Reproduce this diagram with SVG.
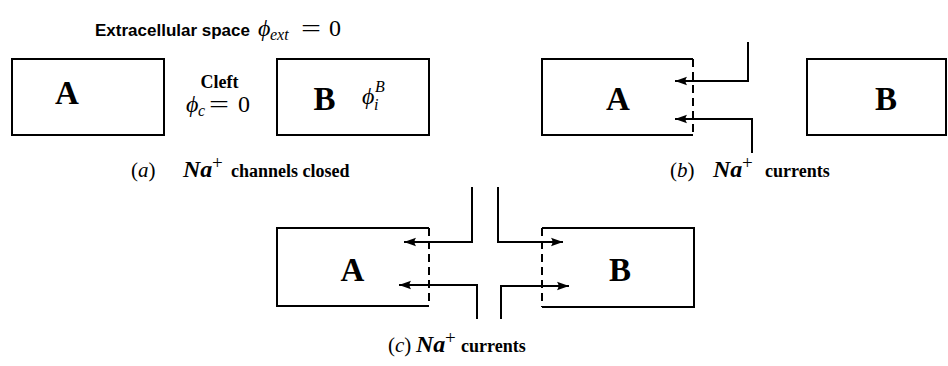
<svg xmlns="http://www.w3.org/2000/svg" width="948" height="366" viewBox="0 0 948 366">
<style>
.box{fill:none;stroke:#000;stroke-width:2}
.dash{fill:none;stroke:#000;stroke-width:2;stroke-dasharray:8,5}
.con{fill:none;stroke:#000;stroke-width:2}
.big{font-family:"Liberation Serif",serif;font-weight:bold;font-size:33px;text-anchor:middle}
.lbl{font-family:"Liberation Serif",serif;font-weight:bold;font-size:18px}
.mi{font-family:"Liberation Serif",serif;font-style:italic;font-size:24px}
.mr{font-family:"Liberation Serif",serif;font-size:24px}
.cap{font-family:"Liberation Serif",serif;font-size:21px}
.na{font-family:"Liberation Serif",serif;font-style:italic;font-weight:bold;font-size:24px}
.sub{font-family:"Liberation Serif",serif;font-style:italic;font-size:16px}
.sup{font-family:"Liberation Serif",serif;font-size:19px}
.sans{font-family:"Liberation Sans",sans-serif;font-weight:bold;font-size:17px}
</style>
<defs>
<marker id="ah" markerUnits="userSpaceOnUse" markerWidth="14" markerHeight="10" refX="12" refY="5" orient="auto">
<path d="M12,5 L0,0.8 Q3,5 0,9.2 Z" fill="#000"/>
</marker>
</defs>
<rect width="948" height="366" fill="#fff"/>

<g id="title">
<text class="sans" x="95" y="36">Extracellular space</text>
<text class="mi" x="258" y="36">ϕ</text>
<text class="sub" x="270" y="40">ext</text>
<text class="mr" x="301" y="36" textLength="20" lengthAdjust="spacingAndGlyphs">=</text>
<text class="mr" x="329" y="36">0</text>
</g>

<g id="a-A">
<rect class="box" x="12" y="59" width="152" height="76"/>
<text class="big" x="67" y="104">A</text>
</g>
<g id="a-cleft">
<text class="lbl" x="219.5" y="88" text-anchor="middle">Cleft</text>
<text class="mi" x="186" y="112">ϕ</text>
<text class="sub" x="198" y="116">c</text>
<text class="mr" x="209" y="112" textLength="20" lengthAdjust="spacingAndGlyphs">=</text>
<text class="mr" x="238" y="112">0</text>
</g>
<g id="a-B">
<rect class="box" x="277" y="59" width="152" height="76"/>
<text class="big" x="324.5" y="110">B</text>
<text class="mi" x="362" y="104" font-size="22">ϕ</text>
<text class="sub" x="374" y="110" font-size="13">i</text>
<text class="sub" x="375" y="92" font-size="14">B</text>
</g>
<g id="a-caption">
<text class="cap" x="131" y="177">(<tspan font-style="italic">a</tspan>)</text>
<text class="na" x="183" y="177">Na</text>
<text class="sup" x="212" y="169">+</text>
<text class="lbl" x="231" y="177">channels closed</text>
</g>

<g id="b-A">
<path class="box" d="M693,59 H542 V135 H693"/>
<line class="dash" x1="693" y1="59" x2="693" y2="135"/>
<text class="big" x="618" y="110">A</text>
</g>
<g id="b-B">
<rect class="box" x="807" y="59" width="139" height="76"/>
<text class="big" x="886" y="110">B</text>
</g>
<g id="b-caption">
<text class="cap" x="670" y="177">(<tspan font-style="italic">b</tspan>)</text>
<text class="na" x="713" y="177">Na</text>
<text class="sup" x="742" y="169">+</text>
<text class="lbl" x="765" y="177">currents</text>
</g>

<g id="c-A">
<path class="box" d="M429,228 H277 V306 H429"/>
<line class="dash" x1="429" y1="228" x2="429" y2="306"/>
<text class="big" x="352.5" y="281">A</text>
</g>
<g id="c-B">
<path class="box" d="M542,228 H694 V307 H542"/>
<line class="dash" x1="542" y1="228" x2="542" y2="307"/>
<text class="big" x="620" y="281">B</text>
</g>
<g id="c-caption">
<text class="cap" x="388" y="352">(<tspan font-style="italic">c</tspan>)</text>
<text class="na" x="416" y="352">Na</text>
<text class="sup" x="445" y="344">+</text>
<text class="lbl" x="461" y="352">currents</text>
</g>

<g id="connectors">
<polyline class="con" points="748,42 748,81 675,81" marker-end="url(#ah)"/>
<polyline class="con" points="752,153 752,119 675,119" marker-end="url(#ah)"/>
<polyline class="con" points="472,187 472,242 404,242" marker-end="url(#ah)"/>
<polyline class="con" points="477,319 477,285 399,285" marker-end="url(#ah)"/>
<polyline class="con" points="498,187 498,242 563,242" marker-end="url(#ah)"/>
<polyline class="con" points="501,319 501,286 569,286" marker-end="url(#ah)"/>
</g>
</svg>
